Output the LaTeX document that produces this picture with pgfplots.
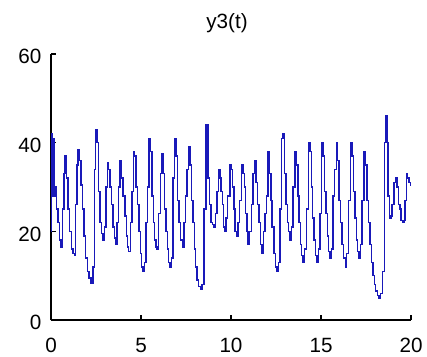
\documentclass[border=0pt]{standalone}
\usepackage{pgfplots}
\pgfplotsset{compat=1.18}
\usepackage{fontspec}
\setmainfont{Liberation Sans}
\definecolor{lineblue}{RGB}{25,25,185}
\begin{document}
\begin{tikzpicture}
\path[use as bounding box] (0,0) rectangle (320.25pt,267pt);
\begin{axis}[
  at={(38.25pt,27pt)}, anchor=south west,
  scale only axis, width=270pt, height=199.5pt,
  xmin=0, xmax=20, ymin=0, ymax=60,
  axis x line*=bottom, axis y line*=left,
  axis line style={-, line width=0.8pt, black},
  xtick={0,5,10,15,20}, ytick={0,20,40,60},
  tick align=inside, major tick length=3.5pt,
  tick style={line width=0.8pt, black},
  /pgf/number format/assume math mode=true,
  tick label style={font=\fontsize{15.5}{18}\selectfont},
  xticklabel style={anchor=base, yshift=-24.5pt, inner sep=0pt},
  yticklabel style={anchor=east, xshift=-7pt, yshift=-2pt, inner sep=0pt},
  title={y3(t)},
  title style={font=\fontsize{15.5}{18}\selectfont, at={(0.5,1)}, anchor=base, yshift=13.5pt, xshift=-3pt},
  clip=false,
]
\addplot[const plot mark left, color=lineblue, line width=1.1pt, mark=none] coordinates {
(0.00,20) (0.03,42) (0.07,28) (0.11,41) (0.16,28) (0.22,30) (0.31,25) (0.38,22) (0.46,18) (0.55,16.5)
(0.64,25) (0.72,33) (0.78,37) (0.86,32) (0.95,25) (1.04,20) (1.13,16) (1.22,15) (1.30,14.5)
(1.37,26) (1.45,35) (1.50,38.5) (1.58,36) (1.66,30.5) (1.75,25) (1.84,19) (1.93,14) (2.02,11) (2.11,9.5) (2.22,8.3)
(2.33,12) (2.41,34) (2.48,43) (2.56,40) (2.63,29) (2.71,22) (2.80,19.5) (2.88,18)
(2.96,21) (3.05,30) (3.13,35.5) (3.20,34) (3.28,30) (3.36,26) (3.44,21) (3.52,18.5) (3.60,17)
(3.67,22) (3.75,30) (3.83,36) (3.92,32) (4.01,28) (4.10,23.5) (4.19,19) (4.26,16.5) (4.32,15.5)
(4.41,22) (4.49,29) (4.57,38) (4.65,37) (4.72,30) (4.80,26) (4.88,20) (4.96,15) (5.03,12) (5.10,11)
(5.19,13) (5.27,22) (5.35,30) (5.44,41) (5.52,38) (5.60,28) (5.68,22) (5.76,18) (5.83,16.5) (5.90,16)
(5.98,24) (6.07,33) (6.15,37.5) (6.23,33) (6.31,25) (6.39,20) (6.47,16) (6.54,13) (6.60,12)
(6.68,14) (6.77,32) (6.87,41) (6.95,37) (7.03,27) (7.11,22) (7.20,18) (7.30,16.5)
(7.38,22) (7.46,28) (7.55,34) (7.65,39) (7.72,35) (7.80,27) (7.88,22) (7.96,16) (8.04,12) (8.12,9) (8.20,7.5) (8.30,7)
(8.40,8) (8.50,25) (8.62,44) (8.72,32) (8.81,26) (8.90,22) (8.98,21.5) (9.05,21)
(9.13,24) (9.21,29) (9.30,34) (9.38,32) (9.45,29) (9.52,26) (9.59,21) (9.65,20)
(9.73,23) (9.82,28) (9.94,35) (10.02,34) (10.09,30) (10.16,25) (10.23,20) (10.30,19)
(10.38,22) (10.47,27) (10.59,35) (10.67,33) (10.74,30) (10.81,24) (10.88,20) (10.95,17)
(11.04,20) (11.13,26) (11.22,33) (11.30,36) (11.39,31) (11.47,26) (11.55,22) (11.64,17) (11.72,15)
(11.80,20) (11.88,24) (11.96,28) (12.05,38) (12.13,33) (12.21,27) (12.29,21) (12.38,15) (12.46,12) (12.55,11)
(12.63,13) (12.72,25) (12.82,41) (12.90,42) (12.97,33) (13.05,26) (13.13,22) (13.20,20) (13.28,18)
(13.36,21) (13.45,30) (13.55,38) (13.63,35) (13.71,28) (13.78,22) (13.86,17) (13.93,14.5) (14.00,13)
(14.08,16) (14.18,25) (14.30,40) (14.38,38) (14.46,30) (14.53,23) (14.60,18) (14.69,14.5) (14.78,13)
(14.86,16) (14.95,24) (15.04,40) (15.12,37) (15.20,29) (15.28,24) (15.35,19) (15.43,15.5) (15.50,14)
(15.58,16) (15.67,28) (15.75,34) (15.85,40) (15.93,36) (16.01,27) (16.09,22) (16.17,17) (16.26,14) (16.35,12)
(16.43,15) (16.52,27) (16.65,40) (16.73,37) (16.81,29) (16.89,23) (16.96,18) (17.03,15.5) (17.10,14)
(17.18,17) (17.28,27) (17.40,38) (17.48,35) (17.56,27) (17.64,22) (17.72,17) (17.80,13) (17.88,10) (17.96,8) (18.04,6.5) (18.13,5.5) (18.22,5)
(18.32,6) (18.42,11) (18.52,40) (18.61,46) (18.66,40) (18.72,28) (18.80,23) (18.88,23.5)
(18.95,26) (19.05,31) (19.15,32) (19.23,30) (19.30,26) (19.38,25) (19.45,22.5) (19.52,22)
(19.60,22.5) (19.67,27) (19.74,33) (19.82,32) (19.90,31) (19.96,30.5) (20.00,30.5)
};
\end{axis}
\end{tikzpicture}
\end{document}
